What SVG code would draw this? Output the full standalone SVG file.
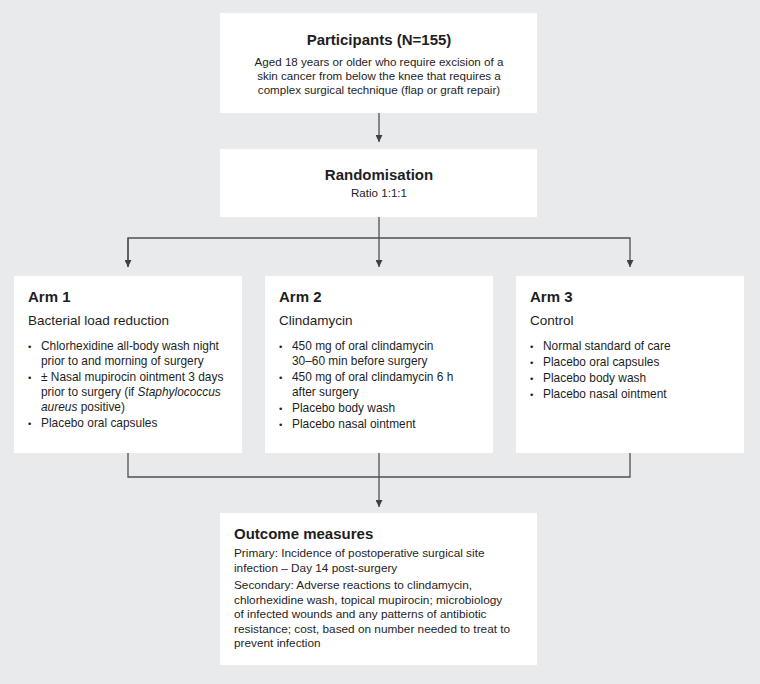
<svg xmlns="http://www.w3.org/2000/svg" width="760" height="684" viewBox="0 0 760 684">
<defs>
<style>
.box{fill:#ffffff}
.t{font-family:"Liberation Sans",Arial,sans-serif;fill:#1e1e1e}
.h{font-size:15px;font-weight:bold}
.s{font-size:13.5px}
.b{font-size:11.6px}
.o{font-size:11.8px}
.l{font-size:11.9px}
.d{font-size:9.5px}
.c{stroke:#505050;stroke-width:1.3;fill:none}
</style>
<marker id="ah" viewBox="0 0 10 10" refX="10" refY="5" markerWidth="7" markerHeight="7" markerUnits="userSpaceOnUse" orient="auto">
<path d="M0,0 L10,5 L0,10 z" fill="#404040"/>
</marker>
</defs>
<rect width="760" height="684" fill="#e9eaeb"/>
<g id="connectors">
<path class="c" d="M379,113 V142" marker-end="url(#ah)"/>
<path class="c" d="M379,217 V267"  marker-end="url(#ah)"/>
<path class="c" d="M128,267 V238 H630 V267" marker-end="url(#ah)"/>
<path class="c" d="M128,238 V267" marker-end="url(#ah)"/>
<path class="c" d="M128,453 V477 H630 V453"/>
<path class="c" d="M379,453 V507" marker-end="url(#ah)"/>
</g>
<g id="participants">
<rect class="box" x="220" y="13" width="317" height="100"/>
<text class="t h" x="379" y="45" text-anchor="middle">Participants (N=155)</text>
<text class="t b" x="379" y="66" text-anchor="middle">Aged 18 years or older who require excision of a</text>
<text class="t b" x="379" y="80" text-anchor="middle">skin cancer from below the knee that requires a</text>
<text class="t b" x="379" y="94" text-anchor="middle">complex surgical technique (flap or graft repair)</text>
</g>
<g id="randomisation">
<rect class="box" x="220" y="149" width="317" height="68"/>
<text class="t h" x="379" y="180" text-anchor="middle">Randomisation</text>
<text class="t b" x="379" y="197" text-anchor="middle">Ratio 1:1:1</text>
</g>
<g id="arm1">
<rect class="box" x="14" y="276" width="228" height="177"/>
<text class="t h" x="28" y="302">Arm 1</text>
<text class="t s" x="28" y="325">Bacterial load reduction</text>
<text class="t d" x="28" y="350">•</text>
<text class="t l" x="41" y="350">Chlorhexidine all-body wash night</text>
<text class="t l" x="41" y="365">prior to and morning of surgery</text>
<text class="t d" x="28" y="381">•</text>
<text class="t l" x="41" y="381">± Nasal mupirocin ointment 3 days</text>
<text class="t l" x="41" y="396">prior to surgery (if <tspan font-style="italic">Staphylococcus</tspan></text>
<text class="t l" x="41" y="411"><tspan font-style="italic">aureus</tspan> positive)</text>
<text class="t d" x="28" y="427">•</text>
<text class="t l" x="41" y="427">Placebo oral capsules</text>
</g>
<g id="arm2">
<rect class="box" x="265" y="276" width="228" height="177"/>
<text class="t h" x="279" y="302">Arm 2</text>
<text class="t s" x="279" y="325">Clindamycin</text>
<text class="t d" x="279" y="350">•</text>
<text class="t l" x="292" y="350">450 mg of oral clindamycin</text>
<text class="t l" x="292" y="365">30–60 min before surgery</text>
<text class="t d" x="279" y="381">•</text>
<text class="t l" x="292" y="381">450 mg of oral clindamycin 6 h</text>
<text class="t l" x="292" y="396">after surgery</text>
<text class="t d" x="279" y="412">•</text>
<text class="t l" x="292" y="412">Placebo body wash</text>
<text class="t d" x="279" y="428">•</text>
<text class="t l" x="292" y="428">Placebo nasal ointment</text>
</g>
<g id="arm3">
<rect class="box" x="516" y="276" width="228" height="177"/>
<text class="t h" x="530" y="302">Arm 3</text>
<text class="t s" x="530" y="325">Control</text>
<text class="t d" x="530" y="350">•</text>
<text class="t l" x="543" y="350">Normal standard of care</text>
<text class="t d" x="530" y="366">•</text>
<text class="t l" x="543" y="366">Placebo oral capsules</text>
<text class="t d" x="530" y="382">•</text>
<text class="t l" x="543" y="382">Placebo body wash</text>
<text class="t d" x="530" y="398">•</text>
<text class="t l" x="543" y="398">Placebo nasal ointment</text>
</g>
<g id="outcome">
<rect class="box" x="220" y="513" width="317" height="152"/>
<text class="t h" x="234" y="539">Outcome measures</text>
<text class="t o" x="234" y="557">Primary: Incidence of postoperative surgical site</text>
<text class="t o" x="234" y="572">infection – Day 14 post-surgery</text>
<text class="t o" x="234" y="589">Secondary: Adverse reactions to clindamycin,</text>
<text class="t o" x="234" y="603.5">chlorhexidine wash, topical mupirocin; microbiology</text>
<text class="t o" x="234" y="618">of infected wounds and any patterns of antibiotic</text>
<text class="t o" x="234" y="632.5">resistance; cost, based on number needed to treat to</text>
<text class="t o" x="234" y="647">prevent infection</text>
</g>
</svg>
